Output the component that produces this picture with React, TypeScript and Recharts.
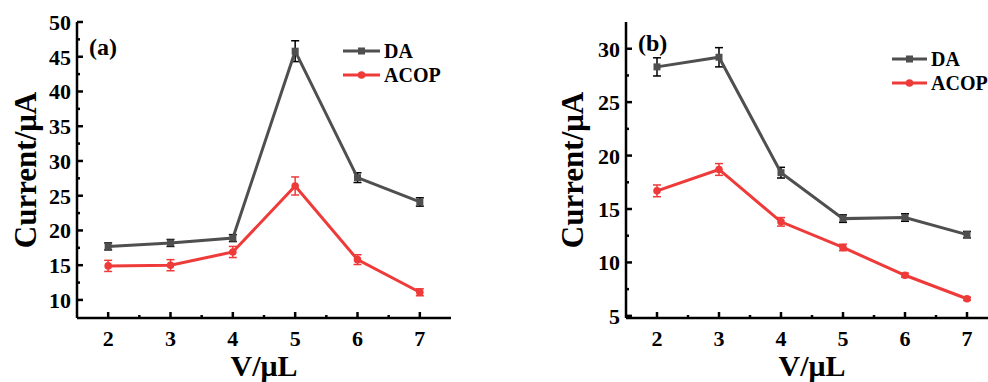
import { LineChart, Line, XAxis, YAxis, ErrorBar, Legend } from 'recharts';

// volume of modifier (µL)
const volumes = [2, 3, 4, 5, 6, 7];

// panel (a)
const daA = [17.7, 18.2, 18.9, 45.8, 27.6, 24.1];
const daAErr = [0.5, 0.5, 0.5, 1.5, 0.7, 0.6];
const acopA = [14.9, 15.0, 16.9, 26.4, 15.8, 11.1];
const acopAErr = [0.8, 0.8, 0.8, 1.3, 0.7, 0.5];

// panel (b)
const daB = [28.3, 29.2, 18.4, 14.1, 14.2, 12.6];
const daBErr = [0.85, 0.9, 0.5, 0.35, 0.35, 0.3];
const acopB = [16.7, 18.7, 13.8, 11.4, 8.8, 6.6];
const acopBErr = [0.55, 0.55, 0.4, 0.3, 0.2, 0.15];

const xTicks = [2, 2.5, 3, 3.5, 4, 4.5, 5, 5.5, 6, 6.5, 7];
const yTicksA = [10, 12.5, 15, 17.5, 20, 22.5, 25, 27.5, 30, 32.5, 35, 37.5, 40, 42.5, 45, 47.5, 50];
const yTicksB = [5, 7.5, 10, 12.5, 15, 17.5, 20, 22.5, 25, 27.5, 30];
const seriesOrder = ['DA', 'ACOP'];

const DA_COLOR = '#4f4f4f';
const ACOP_COLOR = '#ef3a3a';
const FONT = 'Liberation Serif, DejaVu Serif, serif';
const AXIS_W = 2.5;

const buildRows = (da: number[], daErr: number[], acop: number[], acopErr: number[]) =>
  volumes.map((v, i) => ({ v, da: da[i], daErr: daErr[i], acop: acop[i], acopErr: acopErr[i] }));

const dataA = buildRows(daA, daAErr, acopA, acopAErr);
const dataB = buildRows(daB, daBErr, acopB, acopBErr);

const isMajor = (v: number) => Math.abs(v - Math.round(v / 5) * 5) < 1e-6;

const XTick = (props: any) => {
  const { x, y, payload } = props;
  const axisY = y - 13;
  const major = Number.isInteger(payload.value);
  return (
    <g>
      <line x1={x} x2={x} y1={axisY} y2={axisY - (major ? 6 : 3)} stroke="#000" strokeWidth={2.5} />
      {major && (
        <text x={x} y={axisY + 28} textAnchor="middle" style={{ fontFamily: FONT, fontWeight: 700, fontSize: 22 }} fill="#000">
          {payload.value}
        </text>
      )}
    </g>
  );
};

const YTick = (props: any) => {
  const { x, y, payload } = props;
  const axisX = x + 6;
  const major = isMajor(payload.value);
  return (
    <g>
      <line x1={axisX} x2={axisX + (major ? 6 : 3)} y1={y} y2={y} stroke="#000" strokeWidth={2.5} />
      {major && (
        <text x={x} y={y + 8} textAnchor="end" style={{ fontFamily: FONT, fontWeight: 700, fontSize: 22 }} fill="#000">
          {payload.value}
        </text>
      )}
    </g>
  );
};

const squareDot = (props: any) => {
  const { cx, cy, index } = props;
  return <rect key={`sq-${index}`} x={cx - 3.5} y={cy - 3.5} width={7} height={7} fill={DA_COLOR} />;
};

const circleDot = (props: any) => {
  const { cx, cy, index } = props;
  return <circle key={`ci-${index}`} cx={cx} cy={cy} r={3.8} fill={ACOP_COLOR} />;
};

const renderLegend = (lineW: number) => (props: any) => {
  const items = [...(props.payload || [])].sort(
    (a: any, b: any) => seriesOrder.indexOf(a.value) - seriesOrder.indexOf(b.value)
  );
  return (
    <div>
      {items.map((entry: any) => (
        <div key={entry.value} style={{ display: 'flex', alignItems: 'center', height: 24 }}>
          <svg width={lineW} height={10} style={{ marginRight: 4 }}>
            <line x1={0} x2={lineW} y1={5} y2={5} stroke={entry.color} strokeWidth={3} />
            {entry.value === 'DA' ? (
              <rect x={lineW / 2 - 3.5} y={1.5} width={7} height={7} fill={entry.color} />
            ) : (
              <circle cx={lineW / 2} cy={5} r={3.8} fill={entry.color} />
            )}
          </svg>
          <span style={{ fontFamily: FONT, fontWeight: 700, fontSize: 20, color: '#000' }}>{entry.value}</span>
        </div>
      ))}
    </div>
  );
};

interface PanelProps {
  data: any[];
  yDomain: [number, number];
  yTicks: number[];
  width: number;
  yAxisWidth: number;
  rightMargin: number;
  tag: string;
  tagPos: { x: number; y: number };
  legendPos: { left: number; top: number };
  legendLine: number;
  yLabelX: number;
}

function Panel({ data, yDomain, yTicks, width, yAxisWidth, rightMargin, tag, tagPos, legendPos, legendLine, yLabelX }: PanelProps) {
  return (
    <LineChart width={width} height={382} data={data} margin={{ top: 22, right: rightMargin, left: 0, bottom: 0 }}>
      <XAxis
        dataKey="v"
        type="number"
        domain={[1.5, 7.5]}
        ticks={xTicks}
        interval={0}
        tickSize={0}
        tickMargin={13}
        tickLine={false}
        height={64}
        axisLine={{ stroke: '#000', strokeWidth: AXIS_W }}
        tick={<XTick />}
        label={(p: any) => {
          const vb = p.viewBox;
          return (
            <text x={vb.x + vb.width / 2} y={vb.y + 58} textAnchor="middle" style={{ fontFamily: FONT, fontWeight: 700, fontSize: 30 }} fill="#000">
              V/μL
            </text>
          );
        }}
      />
      <XAxis xAxisId="top" orientation="top" type="number" domain={[1.5, 7.5]} height={0} tick={false} tickLine={false} axisLine={{ stroke: '#000', strokeWidth: AXIS_W }} />
      <YAxis
        type="number"
        domain={yDomain}
        ticks={yTicks}
        interval={0}
        tickSize={0}
        tickMargin={6}
        tickLine={false}
        width={yAxisWidth}
        allowDataOverflow
        axisLine={{ stroke: '#000', strokeWidth: AXIS_W }}
        tick={<YTick />}
        label={(p: any) => {
          const vb = p.viewBox;
          const cy = vb.y + vb.height / 2;
          return (
            <text x={yLabelX} y={cy} transform={`rotate(-90 ${yLabelX} ${cy})`} textAnchor="middle" dominantBaseline="central" style={{ fontFamily: FONT, fontWeight: 700, fontSize: 31 }} fill="#000">
              Current/μA
            </text>
          );
        }}
      />
      <YAxis yAxisId="right" orientation="right" type="number" domain={yDomain} width={0} tick={false} tickLine={false} axisLine={{ stroke: '#000', strokeWidth: AXIS_W }} />
      <Legend
        layout="vertical"
        verticalAlign="middle"
        align="center"
        wrapperStyle={{ left: legendPos.left, top: legendPos.top, width: 'auto', height: 'auto' }}
        content={renderLegend(legendLine)}
      />
      <Line type="linear" dataKey="da" name="DA" stroke={DA_COLOR} strokeWidth={3} dot={squareDot} isAnimationActive={false}>
        <ErrorBar dataKey="daErr" direction="y" width={4} stroke="#000" strokeWidth={1.5} isAnimationActive={false} />
      </Line>
      <Line type="linear" dataKey="acop" name="ACOP" stroke={ACOP_COLOR} strokeWidth={3} dot={circleDot} isAnimationActive={false}>
        <ErrorBar dataKey="acopErr" direction="y" width={4} stroke={ACOP_COLOR} strokeWidth={1.5} isAnimationActive={false} />
      </Line>
      <text x={tagPos.x} y={tagPos.y} style={{ fontFamily: FONT, fontWeight: 700, fontSize: 24 }} fill="#000">
        {tag}
      </text>
    </LineChart>
  );
}

export default function App() {
  return (
    <div style={{ position: 'absolute', left: 0, top: 0, width: 988, height: 382, overflow: 'hidden', background: '#fff' }}>
      <div style={{ position: 'absolute', left: 0, top: 0 }}>
        <Panel
          data={dataA}
          yDomain={[7.4, 50]}
          yTicks={yTicksA}
          width={494}
          yAxisWidth={77}
          rightMargin={43}
          tag="(a)"
          tagPos={{ x: 89, y: 55 }}
          legendPos={{ left: 343, top: 39 }}
          legendLine={37}
          yLabelX={25}
        />
      </div>
      <div style={{ position: 'absolute', left: 494, top: 0 }}>
        <Panel
          data={dataB}
          yDomain={[4.8, 32.5]}
          yTicks={yTicksB}
          width={520}
          yAxisWidth={132}
          rightMargin={16}
          tag="(b)"
          tagPos={{ x: 144, y: 51 }}
          legendPos={{ left: 398, top: 47 }}
          legendLine={35}
          yLabelX={78}
        />
      </div>
    </div>
  );
}
